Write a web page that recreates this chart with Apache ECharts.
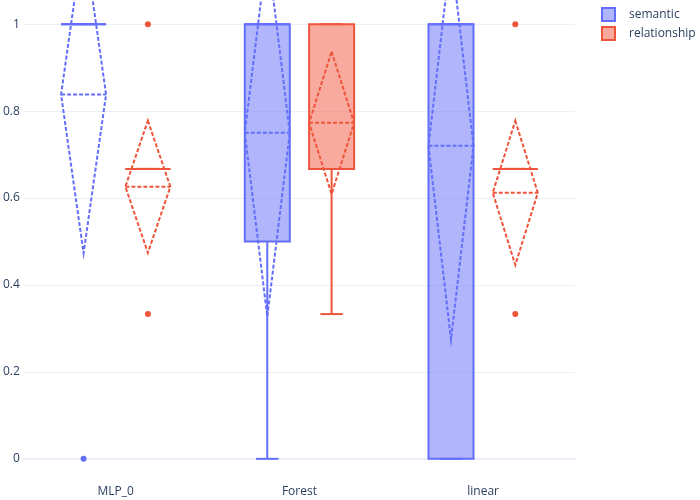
<!DOCTYPE html>
<html><head><meta charset="utf-8">
<script src="https://cdn.jsdelivr.net/npm/echarts@6/dist/echarts.min.js"></script>
<style>html,body{margin:0;padding:0;background:#fff}#c{width:700px;height:500px}</style>
</head><body><div id="c"></div>
<script>
const categories = ['MLP_0', 'Forest', 'linear'];
const yTicks = [0, 0.2, 0.4, 0.6, 0.8, 1];

const semanticQ1 = [1, 0.5, 0];
const semanticMedian = [1, 1, 1];
const semanticQ3 = [1, 1, 1];
const semanticLower = [1, 0, 0];
const semanticUpper = [1, 1, 1];
const semanticMean = [0.838, 0.75, 0.72];
const semanticSd = [0.365, 0.423, 0.446];
const semanticOutliers = [[0, 0]];

const relationshipQ1 = [0.667, 0.667, 0.667];
const relationshipMedian = [0.667, 0.667, 0.667];
const relationshipQ3 = [0.667, 1, 0.667];
const relationshipLower = [0.667, 0.333, 0.667];
const relationshipUpper = [0.667, 1, 0.667];
const relationshipMean = [0.626, 0.773, 0.612];
const relationshipSd = [0.152, 0.164, 0.166];
const relationshipOutliers = [[0, 1], [0, 0.333], [2, 1], [2, 0.333]];

const BLUE = '#636efa', BLUE_FILL = 'rgba(99,110,250,0.5)';
const RED = '#EF553B', RED_FILL = 'rgba(239,85,59,0.5)';
const FONT = '"Open Sans", sans-serif';

function rows(q1, med, q3, lo, hi, mean, sd) {
  return categories.map((c, i) => [i, q1[i], med[i], q3[i], lo[i], hi[i], mean[i], sd[i]]);
}

function boxRenderer(color, fill, side) {
  return function (params, api) {
    const i = api.value(0);
    const band = api.size([1, 0])[0];
    const cx = api.coord([i, 0])[0] + side * band * 0.175;
    const w = band * 0.245;
    const cap = w / 2;
    const y = v => api.coord([i, v])[1];
    const q1 = y(api.value(1)), med = y(api.value(2)), q3 = y(api.value(3));
    const lo = y(api.value(4)), hi = y(api.value(5));
    const m = api.value(6), sd = api.value(7);
    const ym = y(m), yTop = y(m + sd), yBot = y(m - sd);
    const solid = { stroke: color, lineWidth: 2, fill: null };
    const dashed = { stroke: color, lineWidth: 2, fill: null, lineDash: [4, 2] };
    return {
      type: 'group',
      children: [
        { type: 'line', shape: { x1: cx, y1: q1, x2: cx, y2: lo }, style: solid },
        { type: 'line', shape: { x1: cx, y1: q3, x2: cx, y2: hi }, style: solid },
        { type: 'line', shape: { x1: cx - cap / 2, y1: lo, x2: cx + cap / 2, y2: lo }, style: solid },
        { type: 'line', shape: { x1: cx - cap / 2, y1: hi, x2: cx + cap / 2, y2: hi }, style: solid },
        { type: 'rect', shape: { x: cx - w / 2, y: q3, width: w, height: q1 - q3 }, style: { fill: fill, stroke: color, lineWidth: 2 } },
        { type: 'line', shape: { x1: cx - w / 2, y1: med, x2: cx + w / 2, y2: med }, style: solid },
        { type: 'polygon', shape: { points: [[cx, yTop], [cx + w / 2, ym], [cx, yBot], [cx - w / 2, ym]] }, style: dashed },
        { type: 'line', shape: { x1: cx - w / 2, y1: ym, x2: cx + w / 2, y2: ym }, style: dashed }
      ]
    };
  };
}

function outlierRenderer(color, side) {
  return function (params, api) {
    const i = api.value(0);
    const band = api.size([1, 0])[0];
    const p = api.coord([i, api.value(1)]);
    return { type: 'circle', shape: { cx: p[0] + side * band * 0.175, cy: p[1], r: 3 }, style: { fill: color } };
  };
}

const chart = echarts.init(document.getElementById('c'), null, { renderer: 'canvas' });
chart.setOption({
  backgroundColor: '#fff',
  animation: false,
  textStyle: { fontFamily: FONT },
  grid: { left: 19, right: 125, top: 0, bottom: 17 },
  legend: {
    orient: 'vertical', left: 601, top: 7, padding: 0, itemWidth: 13, itemHeight: 13, itemGap: 4,
    textStyle: { fontSize: 12, color: '#2a3f5f', fontFamily: FONT, padding: [0, 0, 0, 9] },
    data: [
      { name: 'semantic', icon: 'rect', itemStyle: { color: BLUE_FILL, borderColor: BLUE, borderWidth: 2 } },
      { name: 'relationship', icon: 'rect', itemStyle: { color: RED_FILL, borderColor: RED, borderWidth: 2 } }
    ]
  },
  xAxis: {
    type: 'category', data: categories, boundaryGap: true,
    axisLine: { show: true, onZero: true, lineStyle: { color: '#EBF0F8', width: 2 } },
    axisTick: { show: false },
    axisLabel: { color: '#2a3f5f', fontSize: 12, fontFamily: FONT, margin: 3 },
    splitLine: { show: false }
  },
  yAxis: {
    type: 'value', min: -0.0556, max: 1.0556,
    axisLine: { show: false },
    axisTick: { show: false, customValues: yTicks },
    axisLabel: { customValues: yTicks, color: '#2a3f5f', fontSize: 12, fontFamily: FONT, margin: 4,
      formatter: v => String(+v.toFixed(1)) },
    splitLine: { show: true, lineStyle: { color: '#EBF0F8', width: 1 } }
  },
  series: [
    { name: 'semantic', type: 'custom', clip: true, renderItem: boxRenderer(BLUE, BLUE_FILL, -1),
      itemStyle: { color: BLUE_FILL, borderColor: BLUE },
      encode: { x: 0, y: [1, 2, 3, 4, 5] },
      data: rows(semanticQ1, semanticMedian, semanticQ3, semanticLower, semanticUpper, semanticMean, semanticSd) },
    { name: 'relationship', type: 'custom', clip: true, renderItem: boxRenderer(RED, RED_FILL, 1),
      itemStyle: { color: RED_FILL, borderColor: RED },
      encode: { x: 0, y: [1, 2, 3, 4, 5] },
      data: rows(relationshipQ1, relationshipMedian, relationshipQ3, relationshipLower, relationshipUpper, relationshipMean, relationshipSd) },
    { name: 'semantic', type: 'custom', clip: true, renderItem: outlierRenderer(BLUE, -1),
      encode: { x: 0, y: 1 }, data: semanticOutliers },
    { name: 'relationship', type: 'custom', clip: true, renderItem: outlierRenderer(RED, 1),
      encode: { x: 0, y: 1 }, data: relationshipOutliers }
  ]
});
</script></body></html>
